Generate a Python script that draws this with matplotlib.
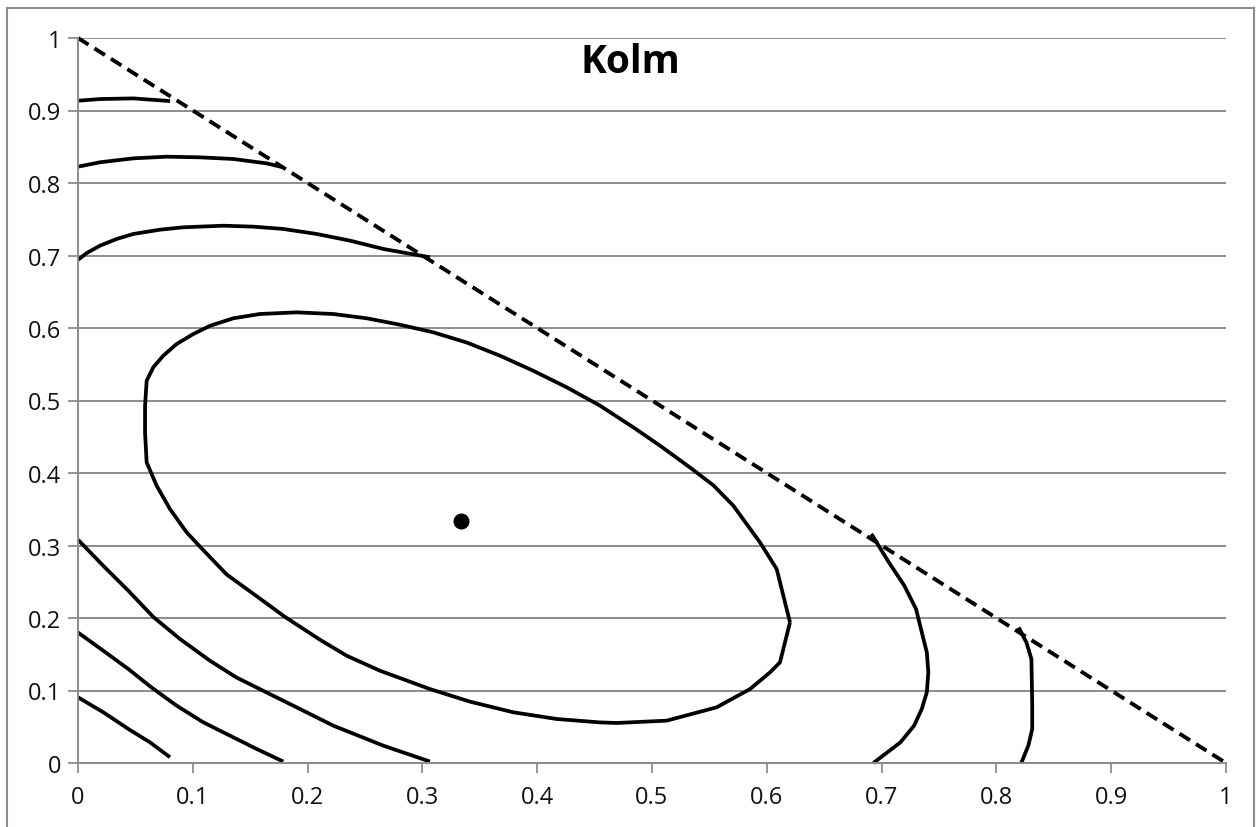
import matplotlib
matplotlib.use("Agg")
import matplotlib.pyplot as plt
from matplotlib.lines import Line2D

plt.rcParams['font.family'] = ['Open Sans', 'DejaVu Sans']

# contours near the (0,1) corner
top_1_x = [0.0, 0.0192, 0.0482, 0.0802]
top_1_y = [0.9135, 0.9158, 0.9167, 0.913]
top_2_x = [0.0, 0.0192, 0.0482, 0.0772, 0.1063, 0.1353, 0.1643, 0.1788]
top_2_y = [0.8225, 0.8286, 0.834, 0.8363, 0.8354, 0.8331, 0.8271, 0.8216]
top_3_x = [0.0, 0.0076, 0.0192, 0.0337, 0.0482, 0.0714, 0.0917, 0.1266, 0.1527,
           0.1788, 0.2079, 0.2369, 0.266, 0.3066]
top_3_y = [0.694, 0.7034, 0.7136, 0.7228, 0.7297, 0.7356, 0.7389, 0.7411, 0.7398,
           0.7366, 0.7297, 0.7205, 0.709, 0.6975]

# contours near the (0,0) corner
low_1_x = [0.0, 0.022, 0.0438, 0.0627, 0.0801]
low_1_y = [0.0906, 0.070, 0.047, 0.0285, 0.008]
low_2_x = [0.0, 0.022, 0.0438, 0.0642, 0.086, 0.1092, 0.1324, 0.1557, 0.1788]
low_2_y = [0.180, 0.1549, 0.1297, 0.104, 0.079, 0.0561, 0.0377, 0.0193, 0.002]
low_3_x = [0.0, 0.022, 0.0438, 0.0656, 0.0889, 0.115, 0.138, 0.164, 0.1876,
           0.2108, 0.2224, 0.266, 0.3066]
low_3_y = [0.308, 0.272, 0.2377, 0.2014, 0.171, 0.141, 0.118, 0.0975, 0.079,
           0.0607, 0.0515, 0.0239, 0.002]

# contours near the (1,0) corner
right_1_x = [0.6911, 0.7063, 0.7198, 0.730, 0.735, 0.7394, 0.7407, 0.7394, 0.735,
             0.7283, 0.7164, 0.6928]
right_1_y = [0.316, 0.2768, 0.2446, 0.2124, 0.1803, 0.1526, 0.1251, 0.0975, 0.0745,
             0.0515, 0.0285, 0.0]
right_2_x = [0.8194, 0.8261, 0.8305, 0.8312, 0.8312, 0.8278, 0.8217]
right_2_y = [0.187, 0.1664, 0.1434, 0.0814, 0.0469, 0.0239, 0.0]

# closed contour round the centre
ring_x = [0.6202, 0.6086, 0.594, 0.5708, 0.5534, 0.5331, 0.507, 0.4837, 0.4547,
          0.4257, 0.3966, 0.3676, 0.3386, 0.3095, 0.2805, 0.2515, 0.2224, 0.1905,
          0.1585, 0.1353, 0.115, 0.1004, 0.086, 0.0743, 0.0656, 0.0598, 0.0584,
          0.0584, 0.0598, 0.0685, 0.0801, 0.0947, 0.1092, 0.1295, 0.1557, 0.1803,
          0.2108, 0.234, 0.263, 0.3066, 0.3415, 0.379, 0.417, 0.4547,
          0.4692, 0.5128, 0.5563, 0.5854, 0.6028, 0.6115, 0.6202]
ring_y = [0.194, 0.2676, 0.3044, 0.355, 0.3831, 0.4076, 0.4377, 0.463, 0.4929,
          0.5182, 0.541, 0.5618, 0.580, 0.594, 0.6045, 0.6134, 0.6193, 0.6216,
          0.6193, 0.6134, 0.603, 0.5917, 0.578, 0.5618, 0.5458, 0.5273, 0.4925,
          0.456, 0.4147, 0.3825, 0.3503, 0.318, 0.2935, 0.260, 0.230, 0.2015,
          0.170, 0.148, 0.1273, 0.102, 0.0846, 0.070, 0.0607, 0.056,
          0.0552, 0.0584, 0.0768, 0.102, 0.125, 0.1389, 0.194]

centre_x = [1 / 3]
centre_y = [1 / 3]
edge_x = [0, 1]
edge_y = [1, 0]

ticks = [0, 0.1, 0.2, 0.3, 0.4, 0.5, 0.6, 0.7, 0.8, 0.9, 1]
tick_labels = ['0', '0.1', '0.2', '0.3', '0.4', '0.5', '0.6', '0.7', '0.8', '0.9', '1']

W, H = 1256, 828
fig = plt.figure(figsize=(W / 100, H / 100), dpi=100)
fig.patch.set_facecolor('white')

# chart border
border = '#8c8c8c'
fig.add_artist(Line2D([7 / W, 7 / W], [0, 1 - 9 / H], color=border, lw=1.5))
fig.add_artist(Line2D([7 / W, 1254 / W], [1 - 9 / H, 1 - 9 / H], color=border, lw=1.5))
fig.add_artist(Line2D([1254 / W, 1254 / W], [0, 1 - 9 / H], color=border, lw=1.5))

ax = fig.add_axes([78 / W, (H - 764) / H, 1148 / W, 725 / H])
ax.set_xlim(0, 1)
ax.set_ylim(0, 1)

ax.set_xticks(ticks)
ax.set_xticklabels(tick_labels)
ax.set_yticks(ticks)
ax.set_yticklabels(tick_labels)
ax.tick_params(axis='both', direction='out', length=7, width=1.3, colors=border,
               labelcolor='#111111', labelsize=17)
ax.tick_params(axis='x', pad=9)
ax.tick_params(axis='y', pad=5)

ax.grid(axis='y', color=border, lw=1.4)
ax.set_axisbelow(True)
for s in ['top', 'right']:
    ax.spines[s].set_visible(False)
for s in ['left', 'bottom']:
    ax.spines[s].set_color(border)
    ax.spines[s].set_linewidth(1.4)

curves = [(top_1_x, top_1_y), (top_2_x, top_2_y), (top_3_x, top_3_y),
          (low_1_x, low_1_y), (low_2_x, low_2_y), (low_3_x, low_3_y),
          (right_1_x, right_1_y), (right_2_x, right_2_y), (ring_x, ring_y)]
for cx, cy in curves:
    ax.plot(cx, cy, color='black', lw=2.7, solid_capstyle='butt',
            solid_joinstyle='round', clip_on=False)

ax.plot(edge_x, edge_y, color='black', lw=2.8, ls=(0, (3.2, 1.8)), clip_on=False)
ax.plot(centre_x, centre_y, 'o', color='black', ms=10.5)

ax.text(0.481, (764 - 73) / 725, 'Kolm', transform=ax.transAxes, ha='center',
        va='baseline', fontsize=28, fontweight='bold')

fig.savefig('out.png', dpi=100)
